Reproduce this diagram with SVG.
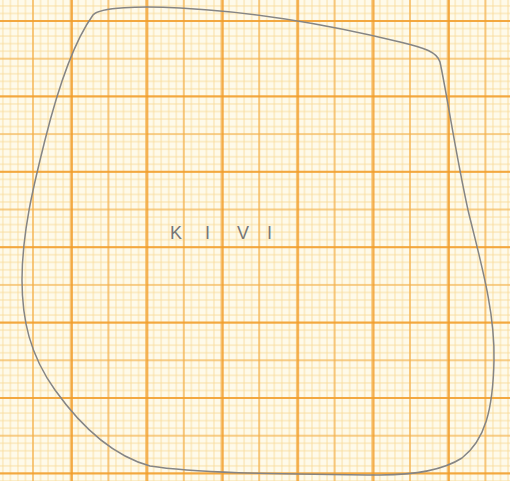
<svg xmlns="http://www.w3.org/2000/svg" width="510" height="481" viewBox="0 0 510 481">
  <defs>
    <pattern id="fine" width="7.54" height="7.54" patternUnits="userSpaceOnUse" patternTransform="translate(29.23,17.23)">
      <path d="M3.77,0 V7.54 M0,3.77 H7.54" stroke="#f8da98" stroke-width="0.85" fill="none"/>
    </pattern>
    <pattern id="half" width="37.7" height="37.7" patternUnits="userSpaceOnUse" patternTransform="translate(14.15,2.15)">
      <path d="M18.85,0 V37.7 M0,18.85 H37.7" stroke="#f4ad48" stroke-width="1.2" fill="none"/>
    </pattern>
    <pattern id="full" width="75.4" height="75.4" patternUnits="userSpaceOnUse" patternTransform="translate(34.3,-16.7)">
      <path d="M37.7,0 V75.4 M0,37.7 H75.4" stroke="#f29c28" stroke-width="1.5" fill="none"/>
    </pattern>
    <style>
      .pencil { fill: none; stroke: #858585; stroke-width: 1.5; stroke-linecap: round; stroke-linejoin: round; }
      .label { font-family: "Liberation Sans", Arial, sans-serif; font-size: 18px; fill: #767676; }
    </style>
  </defs>
  <g id="paper">
    <rect width="510" height="481" fill="#fefaea"/>
    <rect width="510" height="481" fill="url(#fine)"/>
    <rect width="510" height="481" fill="url(#half)"/>
    <rect width="510" height="481" fill="url(#full)"/>
  </g>
  <g id="kivi">
    <path class="pencil" d="M 93,15 C 100,7 140,6 180,8 C 260,12 330,25 400,42 C 425,48 437,52 440,62 C 448,100 455,150 468,210 C 480,260 495,310 494,360 C 493,410 485,440 462,458 C 440,472 410,475 380,475 C 300,474 200,474 150,466 C 110,455 80,425 55,390 C 30,355 22,320 22,280 C 22,230 35,180 45,140 C 60,80 75,40 93,15 Z"/>
    <text class="label" x="170 205 237 267" y="239">KIVI</text>
  </g>
</svg>
